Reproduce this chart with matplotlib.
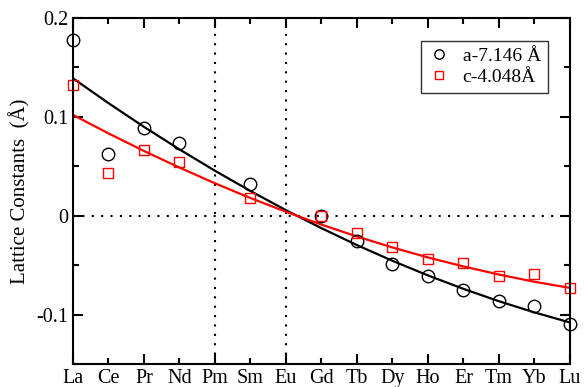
import matplotlib
matplotlib.use('Agg')
import matplotlib.pyplot as plt
import numpy as np
from matplotlib.ticker import MultipleLocator

plt.rcParams['font.family'] = ['Liberation Serif', 'DejaVu Serif']

# Lanthanide series
elements = ['La', 'Ce', 'Pr', 'Nd', 'Pm', 'Sm', 'Eu', 'Gd', 'Tb', 'Dy', 'Ho', 'Er', 'Tm', 'Yb', 'Lu']

# measured deviations (Pm and Eu missing)
a_idx = [0, 1, 2, 3, 5, 7, 8, 9, 10, 11, 12, 13, 14]
a_vals = [0.178, 0.062, 0.089, 0.074, 0.032, 0.0, -0.026, -0.049, -0.061, -0.075, -0.086, -0.091, -0.110]
c_vals = [0.132, 0.043, 0.067, 0.054, 0.018, 0.0, -0.017, -0.032, -0.044, -0.048, -0.061, -0.059, -0.073]

# fitted curves read off at every element
fit_a = [0.139, 0.1139, 0.0899, 0.0671, 0.0455, 0.0250, 0.0056, -0.0126, -0.0297,
         -0.0456, -0.0604, -0.0740, -0.0865, -0.0978, -0.108]
fit_c = [0.102, 0.0833, 0.0655, 0.0487, 0.0328, 0.0179, 0.0040, -0.0090, -0.0210,
         -0.0321, -0.0422, -0.0513, -0.0595, -0.0668, -0.073]

fig = plt.figure(figsize=(5.84, 3.87), dpi=100)
ax = fig.add_axes([0.125, 0.0594, 0.851, 0.8940])

x = np.arange(len(elements))

# dotted guides
ax.axhline(0, color='black', linestyle=(0, (1, 3.5)), linewidth=1.5)
ax.axvline(4, color='black', linestyle=(0, (1, 3.5)), linewidth=1.5)
ax.axvline(6, color='black', linestyle=(0, (1, 3.5)), linewidth=1.5)

ax.plot(x, fit_a, color='black', linewidth=1.6)
ax.plot(x, fit_c, color='red', linewidth=1.6)

ax.plot(a_idx, a_vals, 'o', markerfacecolor='none', markeredgecolor='black',
        markersize=9, markeredgewidth=1.0, label='a-7.146 Å', clip_on=False)
ax.plot(a_idx, c_vals, 's', markerfacecolor='none', markeredgecolor='red',
        markersize=7.5, markeredgewidth=1.0, label='c-4.048Å', clip_on=False)

ax.set_xlim(0, 14)
ax.set_ylim(-0.15, 0.2)
ax.set_xticks(x[::2])
ax.set_xticks(x[1::2], minor=True)
ax.set_xticklabels(elements[::2])
ax.set_xticklabels(elements[1::2], minor=True)
ax.yaxis.set_minor_locator(MultipleLocator(0.05))
ax.set_yticks([-0.1, 0, 0.1, 0.2])
ax.set_yticklabels(['-0.1', '0', '0.1', '0.2'])

ax.tick_params(which='both', direction='in', top=True, right=True, labelsize=14.5, width=1.5)
ax.tick_params(which='major', length=7, pad=3.5)
ax.tick_params(which='minor', length=4, pad=3.5)
for s in ax.spines.values():
    s.set_linewidth(1.5)

ax.set_ylabel('Lattice Constants  (Å)', fontsize=15, labelpad=4)

leg = ax.legend(loc='upper left', bbox_to_anchor=(0.700, 0.934), fontsize=14,
                frameon=True, fancybox=False, edgecolor='black', markerscale=0.75,
                handlelength=1.2, handletextpad=0.6, borderpad=0.35, labelspacing=0.15,
                borderaxespad=0)
leg.get_frame().set_linewidth(1.0)

fig.savefig('out.png', dpi=100)
